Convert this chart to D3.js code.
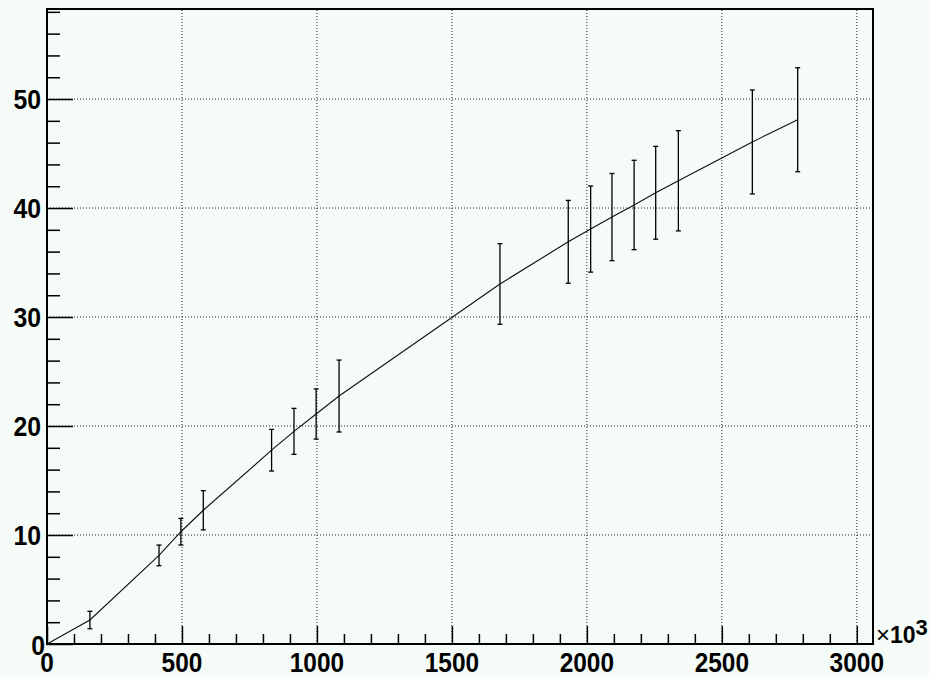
<!DOCTYPE html>
<html>
<head>
<meta charset="utf-8">
<script src="https://cdn.jsdelivr.net/npm/d3@7"></script>
<style>
  body { margin: 0; background: #f5fbf7; }
  svg { display: block; }
  text { font-family: "Liberation Sans", Arial, sans-serif; font-weight: bold; fill: #000; }
</style>
</head>
<body>
<div id="chart"></div>
<script>
// graph points (x in units of 10^3)
const xValues = [0, 159, 415, 496, 579, 832, 915, 997, 1082, 1678, 1931, 2014, 2093, 2175, 2255, 2339, 2613, 2781];
const yValues = [0, 2.2, 8.13, 10.3, 12.27, 17.78, 19.51, 21.1, 22.75, 33.03, 36.9, 38.07, 39.17, 40.28, 41.4, 42.5, 46.06, 48.1];
const yErrors = [0, 0.8, 0.95, 1.22, 1.8, 1.91, 2.11, 2.3, 3.3, 3.7, 3.8, 3.95, 4.0, 4.1, 4.26, 4.6, 4.77, 4.77];
const xTickLabels = [0, 500, 1000, 1500, 2000, 2500, 3000];
const yTickLabels = [0, 10, 20, 30, 40, 50];

function init() {
    const w = 929;
    const h = 677;
    const left = 47, right = 873, top = 9, bottom = 644;

    const svg = d3.select("#chart")
        .append("svg")
        .attr("width", w)
        .attr("height", h);

    const x = d3.scaleLinear().domain([0, 3060]).range([left, right]);
    const y = d3.scaleLinear().domain([0, 58.26]).range([bottom, top]);

    // background
    svg.append("rect")
        .attr("x", 0).attr("y", 0)
        .attr("width", w).attr("height", h)
        .attr("fill", "#f5fbf7");

    // dotted grid
    svg.append("g")
        .selectAll("line")
        .data(xTickLabels.slice(1))
        .enter()
        .append("line")
        .attr("x1", d => x(d)).attr("x2", d => x(d))
        .attr("y1", bottom).attr("y2", top)
        .attr("stroke", "#222")
        .attr("stroke-width", 1)
        .attr("stroke-dasharray", "1,2");

    svg.append("g")
        .selectAll("line")
        .data(yTickLabels.slice(1))
        .enter()
        .append("line")
        .attr("x1", left).attr("x2", right)
        .attr("y1", d => y(d)).attr("y2", d => y(d))
        .attr("stroke", "#222")
        .attr("stroke-width", 1)
        .attr("stroke-dasharray", "1,2");

    // x axis: ticks pointing up into the plot
    const xAxis = d3.axisTop(x)
        .tickValues(d3.range(0, 3001, 100))
        .tickSize(0)
        .tickFormat("");
    const gx = svg.append("g")
        .attr("transform", "translate(0," + bottom + ")")
        .call(xAxis);
    gx.select(".domain").remove();
    gx.selectAll(".tick line")
        .attr("y2", d => (d % 500 === 0) ? -18 : -10)
        .attr("stroke", "#000")
        .attr("stroke-width", 1.5);

    // y axis: ticks pointing right into the plot
    const yAxis = d3.axisRight(y)
        .tickValues(d3.range(0, 58.1, 2))
        .tickSize(0)
        .tickFormat("");
    const gy = svg.append("g")
        .attr("transform", "translate(" + left + ",0)")
        .call(yAxis);
    gy.select(".domain").remove();
    gy.selectAll(".tick line")
        .attr("x2", d => (Math.round(d) % 10 === 0) ? 26 : 13)
        .attr("stroke", "#000")
        .attr("stroke-width", 1.5);

    // tick labels
    svg.append("g")
        .selectAll("text")
        .data(xTickLabels)
        .enter()
        .append("text")
        .text(d => d)
        .attr("x", d => x(d))
        .attr("y", 672)
        .attr("font-size", "28px")
        .attr("text-anchor", "middle")
        .attr("textLength", d => String(d).length * 13.6)
        .attr("lengthAdjust", "spacingAndGlyphs");

    svg.append("g")
        .selectAll("text")
        .data(yTickLabels)
        .enter()
        .append("text")
        .text(d => d)
        .attr("x", d => d === 0 ? 45 : 41)
        .attr("y", d => y(d) + 10 + (d === 0 ? 1 : 0))
        .attr("font-size", "28px")
        .attr("text-anchor", "end")
        .attr("textLength", d => String(d).length * 13.8)
        .attr("lengthAdjust", "spacingAndGlyphs");

    // exponent label
    const ex = svg.append("text")
        .attr("x", 876)
        .attr("y", 643)
        .attr("font-size", "23px");
    ex.append("tspan").text("\u00d7").attr("font-weight", "normal").attr("font-size", "24px");
    ex.append("tspan").text("10").attr("font-size", "23px");
    ex.append("tspan").text("3").attr("dy", -8).attr("font-size", "22px");

    // connecting line
    const points = xValues.map((d, i) => ({x: d, y: yValues[i], e: yErrors[i]}));
    const line = d3.line()
        .x(d => x(d.x))
        .y(d => y(d.y));
    svg.append("path")
        .datum(points)
        .attr("d", line)
        .attr("fill", "none")
        .attr("stroke", "#111")
        .attr("stroke-width", 1.1);

    // error bars
    const bars = svg.append("g")
        .selectAll("g")
        .data(points.filter(d => d.e > 0))
        .enter()
        .append("g")
        .attr("stroke", "#000")
        .attr("stroke-width", 1.3);
    bars.append("line")
        .attr("x1", d => x(d.x)).attr("x2", d => x(d.x))
        .attr("y1", d => y(d.y - d.e)).attr("y2", d => y(d.y + d.e));
    bars.append("line")
        .attr("x1", d => x(d.x) - 2.5).attr("x2", d => x(d.x) + 2.5)
        .attr("y1", d => y(d.y + d.e)).attr("y2", d => y(d.y + d.e));
    bars.append("line")
        .attr("x1", d => x(d.x) - 2.5).attr("x2", d => x(d.x) + 2.5)
        .attr("y1", d => y(d.y - d.e)).attr("y2", d => y(d.y - d.e));

    // frame
    svg.append("rect")
        .attr("x", left).attr("y", top)
        .attr("width", right - left).attr("height", bottom - top)
        .attr("fill", "none")
        .attr("stroke", "#000")
        .attr("stroke-width", 2);
}

window.onload = init;
</script>
</body>
</html>
